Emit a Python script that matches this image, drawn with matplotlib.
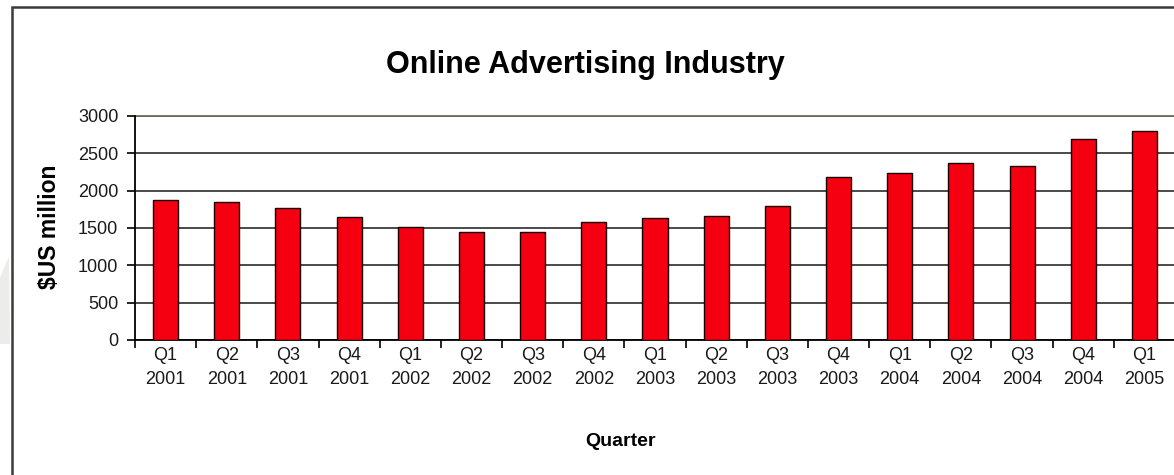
import numpy as np
import matplotlib
matplotlib.use('Agg')
import matplotlib.pyplot as plt
from matplotlib.patches import Rectangle, Polygon

FIGURE_BGCOLOR = 'white'
BARS_COLOUR = '#f40010'
GRID_COLOUR = '#3c3c3c'

plt.rcParams['font.family'] = ['Liberation Sans', 'DejaVu Sans']

# quarterly online advertising revenue, $US million
quarters = ['Q1', 'Q2', 'Q3', 'Q4', 'Q1', 'Q2', 'Q3', 'Q4', 'Q1',
            'Q2', 'Q3', 'Q4', 'Q1', 'Q2', 'Q3', 'Q4', 'Q1']
years = ['2001', '2001', '2001', '2001', '2002', '2002', '2002', '2002',
         '2003', '2003', '2003', '2003', '2004', '2004', '2004', '2004',
         '2005']
revenue = [1872, 1848, 1773, 1641, 1520, 1450, 1451, 1587, 1632,
           1660, 1793, 2182, 2230, 2369, 2333, 2694, 2802]
y_ticks = [0, 500, 1000, 1500, 2000, 2500, 3000]

labels = [f"{q}\n{y}" for q, y in zip(quarters, years)]
x = np.arange(len(revenue))

fig = plt.figure(figsize=(11.74, 4.75), dpi=100)
fig.set_facecolor(FIGURE_BGCOLOR)

# slide frame round the chart and the faint shape behind it
fig.patches.append(Rectangle((12 / 1174, -0.05), 1.2, 1.05 - 7 / 475,
                             transform=fig.transFigure, fill=False,
                             edgecolor='#3a3a3a', linewidth=1.8))
fig.patches.append(Polygon([(0, 1 - 278 / 475), (9 / 1174, 1 - 256 / 475),
                            (10 / 1174, 1 - 344 / 475), (0, 1 - 344 / 475)],
                           closed=True, transform=fig.transFigure,
                           facecolor='#ececea', edgecolor='none'))

ax = fig.add_axes([135 / 1174, 135 / 475, 1040 / 1174, 224 / 475])

ax.bar(x, revenue, width=0.41, color=BARS_COLOUR,
       edgecolor='#1a0000', linewidth=1.0, zorder=3)

ax.set_xlim(-0.5, len(revenue) - 0.5)
ax.set_ylim(0, 3000)
ax.set_yticks(y_ticks)
ax.set_yticklabels([str(v) for v in y_ticks])
ax.yaxis.grid(True, color=GRID_COLOUR, linewidth=1.3, zorder=1)
ax.set_axisbelow(True)

# category labels under the bars, tick marks at the category edges
ax.set_xticks(x)
ax.set_xticklabels(labels, linespacing=1.55)
ax.set_xticks(np.arange(len(revenue) + 1) - 0.5, minor=True)
ax.tick_params(axis='x', which='major', length=0, pad=5,
               labelsize=13, labelcolor='#1a1a1a')
ax.tick_params(axis='x', which='minor', length=6, width=1.2,
               direction='out', color='black')
ax.tick_params(axis='y', length=6, width=1.2, pad=6,
               labelsize=13, labelcolor='#1a1a1a')

for side in ['top', 'right']:
    ax.spines[side].set_visible(False)
ax.spines['left'].set_linewidth(1.3)
ax.spines['bottom'].set_linewidth(1.3)
ax.axhline(3000, color='#6e6e5e', linewidth=1.3, zorder=2, clip_on=False)

fig.text(585 / 1174, 1 - 65 / 475, 'Online Advertising Industry',
         ha='center', va='center', fontsize=22, fontweight='bold')
fig.text(49 / 1174, 1 - 227 / 475, '$US million', rotation=90,
         ha='center', va='center', fontsize=16.5, fontweight='bold')
fig.text(620 / 1174, 1 - 441 / 475, 'Quarter',
         ha='center', va='center', fontsize=14, fontweight='bold')

fig.savefig('out.png', dpi=100, facecolor=FIGURE_BGCOLOR)
